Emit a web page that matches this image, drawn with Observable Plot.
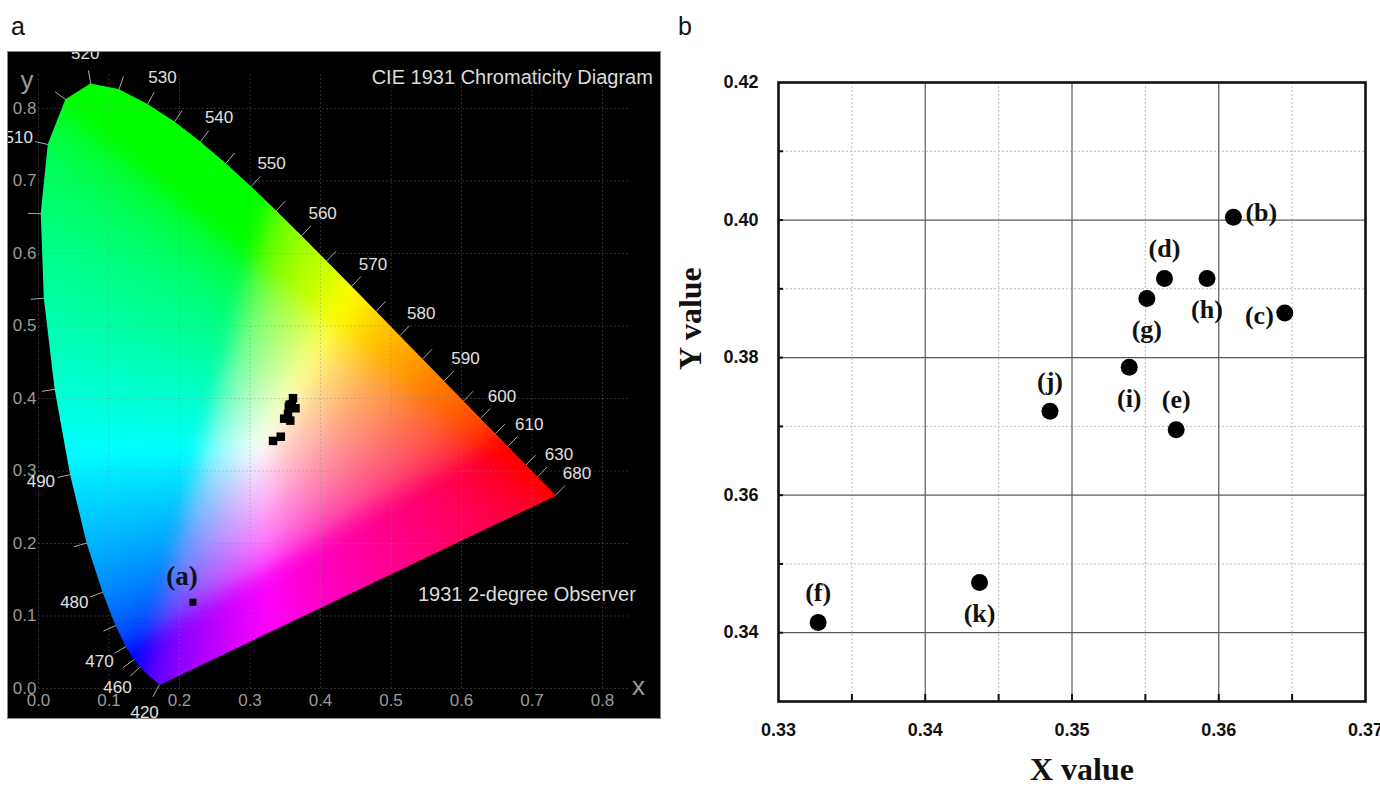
<!DOCTYPE html>
<html><head><meta charset="utf-8">
<script src="https://cdn.jsdelivr.net/npm/d3@7"></script>
<script src="https://cdn.jsdelivr.net/npm/@observablehq/plot@0.6"></script>
<style>
body{margin:0;background:#fff;width:1380px;height:790px;position:relative;overflow:hidden;font-family:"Liberation Sans",Arial,sans-serif;}
#a{position:absolute;left:8px;top:52px;width:652px;height:666px;background:#000;outline:1px solid #888;}
#b{position:absolute;left:670px;top:60px;width:710px;height:730px;}
.lab{position:absolute;font-size:25px;color:#111;line-height:1;}
</style></head><body>
<div class="lab" style="left:11px;top:14px">a</div>
<div class="lab" style="left:678px;top:14px">b</div>
<div id="a"></div><div id="b"></div>
<script>
// ---- CIE 1931 2° spectral locus (wavelength, x, y) ----
const wavelengths = [380,385,390,395,400,405,410,415,420,425,430,435,440,445,450,455,460,465,470,475,480,485,490,495,500,505,510,515,520,525,530,535,540,545,550,555,560,565,570,575,580,585,590,595,600,605,610,615,620,625,630,635,640,645,650,655,660,665,670,675,680,685,690,695,700];
const locusX = [0.1741,0.1740,0.1738,0.1736,0.1733,0.1730,0.1726,0.1721,0.1714,0.1703,0.1689,0.1669,0.1644,0.1611,0.1566,0.1510,0.1440,0.1355,0.1241,0.1096,0.0913,0.0687,0.0454,0.0235,0.0082,0.0039,0.0139,0.0389,0.0743,0.1142,0.1547,0.1929,0.2296,0.2658,0.3016,0.3373,0.3731,0.4087,0.4441,0.4788,0.5125,0.5448,0.5752,0.6029,0.6270,0.6482,0.6658,0.6801,0.6915,0.7006,0.7079,0.7140,0.7190,0.7230,0.7260,0.7283,0.7300,0.7311,0.7320,0.7327,0.7334,0.7340,0.7344,0.7346,0.7347];
const locusY = [0.0050,0.0050,0.0049,0.0049,0.0048,0.0048,0.0048,0.0048,0.0051,0.0058,0.0069,0.0086,0.0109,0.0138,0.0177,0.0227,0.0297,0.0399,0.0578,0.0868,0.1327,0.2007,0.2950,0.4127,0.5384,0.6548,0.7502,0.8120,0.8338,0.8262,0.8059,0.7816,0.7543,0.7243,0.6923,0.6589,0.6245,0.5896,0.5547,0.5202,0.4866,0.4544,0.4242,0.3965,0.3725,0.3514,0.3340,0.3197,0.3083,0.2993,0.2920,0.2859,0.2809,0.2770,0.2740,0.2717,0.2700,0.2689,0.2680,0.2673,0.2666,0.2660,0.2656,0.2654,0.2653];
const labeledWavelengths = [420,460,470,480,490,510,520,530,540,550,560,570,580,590,600,610,630,680];
const tickWavelengths = [420,460,465,470,475,480,485,490,495,500,505,510,515,520,525,530,535,540,545,550,555,560,565,570,575,580,585,590,595,600,605,610,620,630,680];
const chromaTicks = [0,0.1,0.2,0.3,0.4,0.5,0.6,0.7,0.8];

// ---- samples (CIE x, y) ----
const sampleNames = ["b","c","d","e","f","g","h","i","j","k"];
const sampleX = [0.3610,0.3645,0.3563,0.3571,0.3327,0.3551,0.3592,0.3539,0.3485,0.3437];
const sampleY = [0.4004,0.3865,0.3915,0.3695,0.3415,0.3886,0.3915,0.3786,0.3722,0.3473];
const sampleA = {name:"a", x:0.219, y:0.119};
const labelAbove = ["d","e","f","j"];
const labelBelow = ["g","h","i","k"];
const labelRight = ["b"];
const labelLeft = ["c"];

const xTicksB = [0.33,0.34,0.35,0.36,0.37];
const yTicksB = [0.34,0.36,0.38,0.40,0.42];
const xMajorGrid = [0.34,0.35,0.36];
const xMinorGrid = [0.335,0.345,0.355,0.365];
const yMajorGrid = [0.34,0.36,0.38,0.40];
const yMinorGrid = [0.35,0.37,0.39,0.41];
const xTickMarks = [0.335,0.34,0.345,0.35,0.355,0.36,0.365];
const yTickMarks = [0.34,0.35,0.36,0.37,0.38,0.39,0.40,0.41];

// ---- derived tables ----
const locus = wavelengths.map((w,i)=>({w, x:locusX[i], y:locusY[i]}));
const poly = locus.map(d=>[d.x,d.y]);
const center = [0.33,0.33];
function normalAt(w){
  const i = wavelengths.indexOf(w);
  const p = locus[i];
  const a = locus[Math.max(0,i-1)], b = locus[Math.min(locus.length-1,i+1)];
  let tx = b.x-a.x, ty = b.y-a.y;
  const len = Math.hypot(tx,ty) || 1;
  let nx = ty/len, ny = -tx/len;
  if (nx*(p.x-center[0]) + ny*(p.y-center[1]) < 0) { nx=-nx; ny=-ny; }
  return {p, nx, ny};
}
const tickTable = tickWavelengths.map(w=>{const {p,nx,ny}=normalAt(w); return {x1:p.x,y1:p.y,x2:p.x+0.019*nx,y2:p.y+0.019*ny};});
const labelTable = labeledWavelengths.map(w=>{const {p,nx,ny}=normalAt(w); return {w, x:p.x+0.043*nx, y:p.y+0.043*ny};});
const samples = sampleNames.map((n,i)=>({name:n, x:sampleX[i], y:sampleY[i]}));

function gam(c){ return c<=0.0031308 ? 12.92*c : 1.055*Math.pow(c,1/2.4)-0.055; }
function chroma(x,y){
  y = Math.max(y, 0.004);
  const X = x/y, Y = 1, Z = Math.max(0,(1-x-y))/y;
  let r = 3.2406*X - 1.5372*Y - 0.4986*Z;
  let g = -0.9689*X + 1.8758*Y + 0.0415*Z;
  let b = 0.0557*X - 0.2040*Y + 1.0570*Z;
  r=Math.max(0,r); g=Math.max(0,g); b=Math.max(0,b);
  const m = Math.max(r,g,b) || 1;
  return `rgb(${Math.round(255*gam(r/m))},${Math.round(255*gam(g/m))},${Math.round(255*gam(b/m))})`;
}

const fmt1 = d3.format(".1f"), fmt2 = d3.format(".2f");
const gridStyle = {stroke:"#888", strokeOpacity:0.35, strokeDasharray:"2,2"};

const left = Plot.plot({
  width:652, height:666, marginLeft:30, marginRight:1.6, marginTop:5.25, marginBottom:30,
  x:{domain:[0,0.88]}, y:{domain:[0,0.87]},
  style:{background:"black", fontFamily:"Liberation Sans, Arial, sans-serif", overflow:"hidden"},
  marks:[
    Plot.raster({x1:0, x2:0.76, y1:0, y2:0.86, fill:chroma, interpolate:null, blur:8, ariaLabel:"gamut"}),
    Plot.ruleX(chromaTicks, {x:d=>d, y1:0, y2:0.85, ...gridStyle}),
    Plot.ruleY(chromaTicks, {y:d=>d, x1:0, x2:0.84, ...gridStyle}),
    Plot.axisX(chromaTicks, {tickSize:0, tickPadding:5, fontSize:17, color:"#9a9a9a", tickFormat:fmt1, label:null}),
    Plot.axisY(chromaTicks, {tickSize:0, tickPadding:2, fontSize:17, color:"#9a9a9a", tickFormat:fmt1, label:null}),
    Plot.link(tickTable, {x1:"x1", y1:"y1", x2:"x2", y2:"y2", stroke:"#aaa", strokeWidth:1}),
    Plot.text(labelTable, {x:"x", y:"y", text:d=>String(d.w), fill:"#e0e0e0", fontSize:17}),
    Plot.dot(samples, {x:"x", y:"y", symbol:"square", r:4.8, fill:"black"}),
    Plot.dot([sampleA], {x:"x", y:"y", symbol:"square", r:4, fill:"black"}),
    Plot.text([sampleA], {x:"x", y:"y", text:d=>`(${d.name})`, dx:-11, dy:-26, fontFamily:"Liberation Serif, serif", fontWeight:"bold", fontSize:27, fill:"#111"}),
    Plot.text(["CIE 1931 Chromaticity Diagram"], {frameAnchor:"top-right", textAnchor:"end", dx:-6, dy:12, fontSize:20, fill:"#dcdcdc"}),
    Plot.text(["1931 2-degree Observer"], {frameAnchor:"bottom-right", textAnchor:"end", dx:-23, dy:-88, fontSize:20, fill:"#dcdcdc"}),
    Plot.text(["y"], {frameAnchor:"top-left", dx:-18, dy:13, fontSize:26, fill:"#9a9a9a"}),
    Plot.text(["x"], {frameAnchor:"bottom-right", dx:-14, dy:6, fontSize:26, fill:"#9a9a9a"})
  ]
});
// clip the blurred colour raster to the spectral locus, using the plot's own scales
(function(){
  const sx = left.scale("x"), sy = left.scale("y");
  const ns = "http://www.w3.org/2000/svg";
  const defs = document.createElementNS(ns, "defs");
  const cp = document.createElementNS(ns, "clipPath");
  cp.setAttribute("id", "gamutClip");
  cp.setAttribute("clipPathUnits", "userSpaceOnUse");
  const pg = document.createElementNS(ns, "polygon");
  pg.setAttribute("points", poly.map(([x,y])=>`${sx.apply(x)},${sy.apply(y)}`).join(" "));
  cp.appendChild(pg); defs.appendChild(cp); left.insertBefore(defs, left.firstChild);
  const img = left.querySelector("image");
  if (img) {
    let node = img;
    while (node.parentNode && node.parentNode !== left) node = node.parentNode;
    const wrap = document.createElementNS(ns, "g");
    wrap.setAttribute("clip-path", "url(#gamutClip)");
    left.insertBefore(wrap, node);
    wrap.appendChild(node);
  }
})();
document.getElementById("a").appendChild(left);

const serif = "Liberation Serif, Times New Roman, serif";
const lbl = {x:"x", y:"y", text:d=>`(${d.name})`, fontFamily:serif, fontWeight:"bold", fontSize:26, fill:"#111"};
const right = Plot.plot({
  width:710, height:730, marginLeft:108, marginRight:15, marginTop:22, marginBottom:89,
  x:{domain:[0.33,0.37]}, y:{domain:[0.33,0.42]},
  style:{background:"white", fontFamily:"Liberation Sans, Arial, sans-serif"},
  marks:[
    Plot.ruleX(xMinorGrid, {x:d=>d, stroke:"#bbb", strokeDasharray:"2,2"}),
    Plot.ruleY(yMinorGrid, {y:d=>d, stroke:"#bbb", strokeDasharray:"2,2"}),
    Plot.ruleX(xMajorGrid, {x:d=>d, stroke:"#5a5a5a", strokeWidth:1.2}),
    Plot.ruleY(yMajorGrid, {y:d=>d, stroke:"#5a5a5a", strokeWidth:1.2}),
    Plot.axisX(xTicksB, {tickSize:0, tickPadding:22, fontSize:18, fontWeight:"bold", tickFormat:fmt2, label:null, color:"#111"}),
    Plot.axisY(yTicksB, {tickSize:0, tickPadding:20, fontSize:18, fontWeight:"bold", tickFormat:fmt2, label:null, color:"#111"}),
    Plot.axisX(xTickMarks, {tickSize:-7, tickFormat:()=>"", label:null, strokeWidth:2, color:"#111"}),
    Plot.axisY(yTickMarks, {tickSize:-5, tickFormat:()=>"", label:null, strokeWidth:2, color:"#111"}),
    Plot.frame({stroke:"#111", strokeWidth:2.6}),
    Plot.dot(samples, {x:"x", y:"y", r:8.5, fill:"#000"}),
    Plot.text(samples.filter(d=>labelAbove.includes(d.name)), {...lbl, dy:-30}),
    Plot.text(samples.filter(d=>labelBelow.includes(d.name)), {...lbl, dy:31}),
    Plot.text(samples.filter(d=>labelRight.includes(d.name)), {...lbl, textAnchor:"start", dx:12, dy:-5}),
    Plot.text(samples.filter(d=>labelLeft.includes(d.name)), {...lbl, textAnchor:"end", dx:-11, dy:3}),
    Plot.text(["X value"], {frameAnchor:"bottom", dx:10, dy:78, fontFamily:serif, fontWeight:"bold", fontSize:32, fill:"#111"}),
    Plot.text(["Y value"], {frameAnchor:"left", dx:-88, dy:-22, rotate:-90, fontFamily:serif, fontWeight:"bold", fontSize:32, fill:"#111"})
  ]
});
document.getElementById("b").appendChild(right);
</script>
</body></html>
